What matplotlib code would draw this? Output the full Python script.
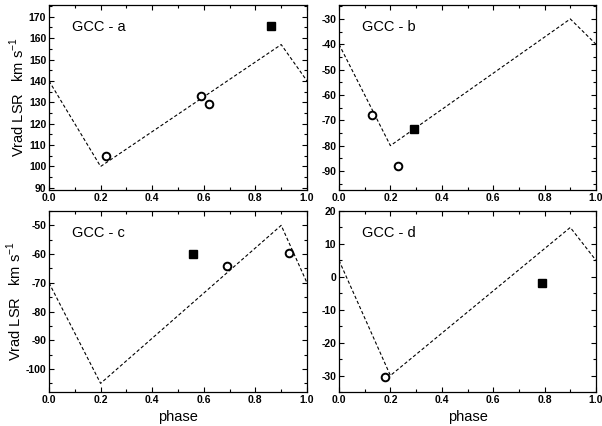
import matplotlib
matplotlib.use('Agg')
import matplotlib.pyplot as plt
from matplotlib.ticker import MultipleLocator

plt.rcParams['font.family'] = ['Liberation Sans', 'DejaVu Sans']
plt.rcParams['axes.unicode_minus'] = False

# model curves (phase, velocity)
model_phase = [0.0, 0.2, 0.9, 1.0]
model_a = [140, 100, 157, 140]
model_b = [-40, -80, -30, -40]
model_c = [-70, -105, -50, -70]
model_d = [5, -30, 15, 5]

# open circles
circ_a_x = [0.22, 0.59, 0.62]
circ_a_y = [105, 133, 129]
circ_b_x = [0.13, 0.23]
circ_b_y = [-68, -88]
circ_c_x = [0.69, 0.93]
circ_c_y = [-64, -59.5]
circ_d_x = [0.18]
circ_d_y = [-30.5]

# filled squares
sq_a_x = [0.86]
sq_a_y = [165.5]
sq_b_x = [0.29]
sq_b_y = [-73.5]
sq_c_x = [0.56]
sq_c_y = [-60]
sq_d_x = [0.79]
sq_d_y = [-2]

panel_names = ['GCC - a', 'GCC - b', 'GCC - c', 'GCC - d']

W, H = 602, 426
fig = plt.figure(figsize=(W / 100, H / 100), dpi=100)

def box(l, t, r, b):
    return [l / W, 1 - b / H, (r - l) / W, (b - t) / H]

axes = [
    fig.add_axes(box(49, 5, 307, 190)),
    fig.add_axes(box(339, 5, 596, 190)),
    fig.add_axes(box(49, 211, 307, 392)),
    fig.add_axes(box(339, 211, 596, 392)),
]

models = [model_a, model_b, model_c, model_d]
circles = [(circ_a_x, circ_a_y), (circ_b_x, circ_b_y), (circ_c_x, circ_c_y), (circ_d_x, circ_d_y)]
squares = [(sq_a_x, sq_a_y), (sq_b_x, sq_b_y), (sq_c_x, sq_c_y), (sq_d_x, sq_d_y)]
ylims = [(89, 175.5), (-97.5, -24.5), (-108, -45), (-35, 20)]

for i, ax in enumerate(axes):
    ax.plot(model_phase, models[i], color='black', lw=0.8, ls=(0, (3, 2)))
    ax.plot(circles[i][0], circles[i][1], 'o', ms=5.5, mfc='white', mec='black', mew=1.4)
    ax.plot(squares[i][0], squares[i][1], 's', ms=6, color='black')
    ax.set_xlim(0, 1)
    ax.set_ylim(*ylims[i])
    ax.xaxis.set_major_locator(MultipleLocator(0.2))
    ax.xaxis.set_minor_locator(MultipleLocator(0.1))
    ax.yaxis.set_major_locator(MultipleLocator(10))
    ax.yaxis.set_minor_locator(MultipleLocator(5))
    ax.tick_params(which='both', direction='in', top=True, right=True,
                   labelsize=7.5, pad=2)
    ax.tick_params(which='major', length=3.5, width=0.8)
    ax.tick_params(which='minor', length=2, width=0.8)
    for lbl in ax.get_xticklabels() + ax.get_yticklabels():
        lbl.set_fontweight('bold')
    for sp in ax.spines.values():
        sp.set_linewidth(0.9)
    ax.text(0.09, 0.88, panel_names[i], transform=ax.transAxes, fontsize=10.5,
            va='center', ha='left')

for ax in (axes[0], axes[2]):
    ax.set_ylabel('Vrad LSR   km s$^{\\mathregular{-1}}$', fontsize=10.5, labelpad=1)
for ax in (axes[2], axes[3]):
    ax.set_xlabel('phase', fontsize=10.5, labelpad=4)

fig.savefig('out.png', dpi=100)
